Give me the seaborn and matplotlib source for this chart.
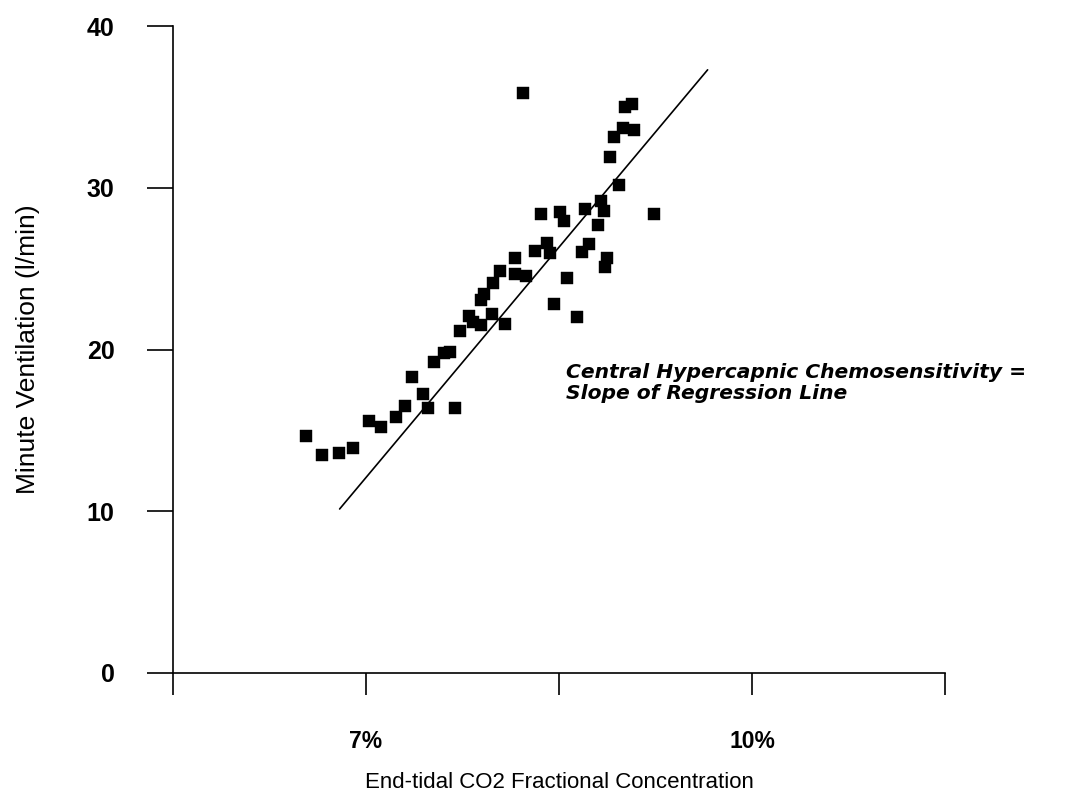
import matplotlib
matplotlib.use("Agg")
import matplotlib.pyplot as plt
import seaborn as sns
import pandas as pd

# End-tidal CO2 (%) and minute ventilation (l/min)
co2_pct = [6.53, 6.66, 6.79, 6.90, 7.02, 7.12, 7.23, 7.30, 7.36, 7.44,
           7.48, 7.69, 7.53, 7.61, 7.65, 7.73, 7.80, 7.83, 7.89, 7.98,
           8.08, 7.89, 7.92, 7.99, 8.04, 8.16, 8.16, 8.24, 8.22, 8.31,
           8.36, 8.41, 8.43, 8.51, 8.54, 8.56, 8.46, 8.64, 8.70, 8.68,
           8.73, 8.80, 8.83, 8.85, 8.87, 8.86, 8.97, 8.90, 8.93, 9.00,
           9.08, 9.01, 9.07, 9.24]
ventilation = [14.66, 13.48, 13.62, 13.91, 15.58, 15.23, 15.83, 16.51, 18.31, 17.25,
               16.39, 16.39, 19.23, 19.79, 19.85, 21.15, 22.08, 21.71, 21.52, 22.20,
               21.58, 23.07, 23.44, 24.12, 24.86, 25.66, 24.68, 24.55, 35.87, 26.10,
               28.39, 26.59, 25.97, 28.51, 27.95, 24.43, 22.82, 22.02, 28.70, 26.04,
               26.55, 27.71, 29.15, 28.59, 25.66, 25.13, 30.18, 31.91, 33.15, 33.70,
               33.54, 35.00, 35.19, 28.40]

# Regression line end points
line_x = [6.795, 9.655]
line_y = [10.14, 37.29]

x_ticks = [5.5, 7.0, 8.5, 10.0, 11.5]
x_tick_labels = ["", "7%", "", "10%", ""]
y_ticks = [0, 10, 20, 30, 40]
y_tick_labels = ["0", "10", "20", "30", "40"]

x_label = "End-tidal CO2 Fractional Concentration"
y_label = "Minute Ventilation (l/min)"
note = "Central Hypercapnic Chemosensitivity =\nSlope of Regression Line"

sns.set_theme(style="white")
plt.rcParams["font.family"] = ["Liberation Sans", "DejaVu Sans"]
plt.rcParams["text.color"] = "black"
plt.rcParams["axes.labelcolor"] = "black"
plt.rcParams["xtick.color"] = "black"
plt.rcParams["ytick.color"] = "black"

fig = plt.figure(figsize=(10.66, 7.96), dpi=100)
ax = fig.add_axes([173 / 1066, 1 - 673 / 796, (945 - 173) / 1066, (673 - 26) / 796])

df = pd.DataFrame({"co2": co2_pct, "ve": ventilation})
sns.scatterplot(data=df, x="co2", y="ve", marker="s", s=85, color="black",
                edgecolor="black", linewidth=0.3, ax=ax, zorder=3)
sns.lineplot(x=line_x, y=line_y, color="black", linewidth=1.2, ax=ax, zorder=2)

ax.set_xlim(5.5, 11.5)
ax.set_ylim(0, 40)
for side in ["top", "right"]:
    ax.spines[side].set_visible(False)
for side in ["left", "bottom"]:
    ax.spines[side].set_color("black")
    ax.spines[side].set_linewidth(1.2)

ax.set_xticks(x_ticks)
ax.set_xticklabels(x_tick_labels, fontsize=16.5, fontweight="bold")
ax.set_yticks(y_ticks)
ax.set_yticklabels(y_tick_labels, fontsize=18, fontweight="bold")
ax.tick_params(axis="x", direction="out", length=16, width=1.2, color="black",
               pad=25, bottom=True)
ax.tick_params(axis="y", direction="out", length=19, width=1.2, color="black",
               pad=23, left=True)

ax.set_xlabel(x_label, fontsize=16, labelpad=14)
ax.set_ylabel(y_label, fontsize=19, labelpad=34)

ax.text(8.554, 17.95, note, fontsize=14.6, fontweight="bold", fontstyle="italic",
        family=["DejaVu Sans"], va="center", ha="left", linespacing=1.12,
        color="black")

fig.savefig("out.png", dpi=100, facecolor="white")
